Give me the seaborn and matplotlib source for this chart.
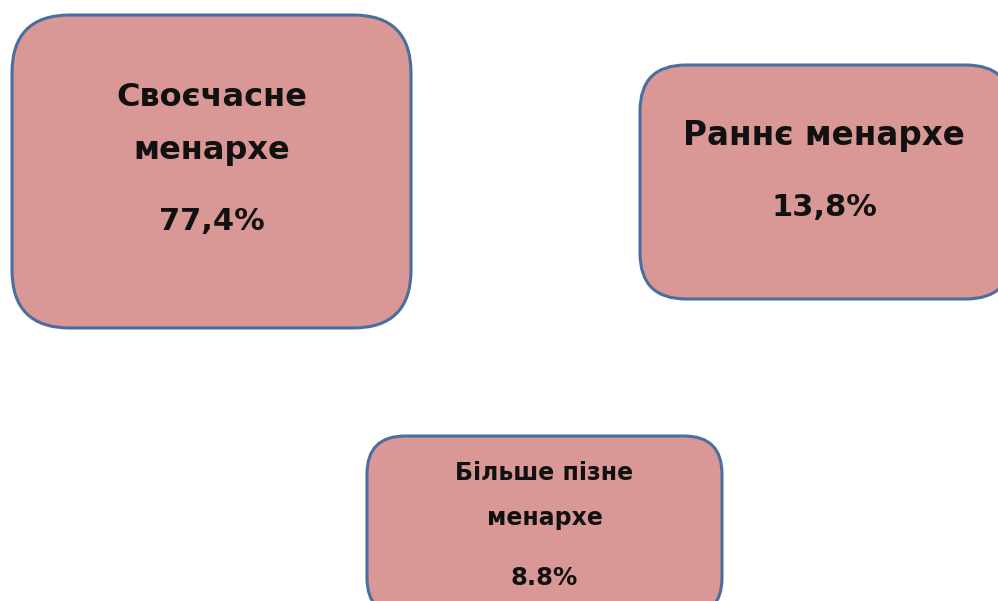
import matplotlib
matplotlib.use("Agg")
import matplotlib.pyplot as plt
import seaborn as sns
from matplotlib.patches import FancyBboxPatch

# categories of menarche onset and their shares
labels = ["Своєчасне\nменархе", "Раннє менархе", "Більше пізне\nменархе"]
values = ["77,4%", "13,8%", "8.8%"]

# box geometry in pixel units (x, top, width, height, corner radius)
boxes = [(12, 15, 399, 313, 58), (640, 65, 372, 234, 46), (367, 436, 355, 180, 38)]
label_y = [[97, 150], [135], [473, 518]]
value_y = [222, 208, 578]
label_size = [23, 23.5, 17]
value_size = [22, 22, 17.5]

sns.set_theme(style="white")
plt.rcParams['font.family'] = ['DejaVu Sans']

fig = plt.figure(figsize=(9.98, 6.01), dpi=100)
ax = fig.add_axes([0, 0, 1, 1])
ax.set_xlim(0, 998)
ax.set_ylim(601, 0)
ax.axis("off")

fill = "#D99795"
edge = "#4A6E9E"

for i, (x, y, w, h, r) in enumerate(boxes):
    patch = FancyBboxPatch((x, y), w, h, boxstyle=f"round,pad=0,rounding_size={r}",
                           facecolor=fill, edgecolor=edge, linewidth=2.2)
    ax.add_patch(patch)
    cx = x + w / 2 if i != 1 else 824
    for line, ly in zip(labels[i].split("\n"), label_y[i]):
        ax.text(cx, ly, line, ha="center", va="center", fontsize=label_size[i],
                fontweight="bold", color="#111111")
    ax.text(cx, value_y[i], values[i], ha="center", va="center", fontsize=value_size[i],
            fontweight="bold", color="#111111")

plt.savefig("out.png", dpi=100)
plt.close()
